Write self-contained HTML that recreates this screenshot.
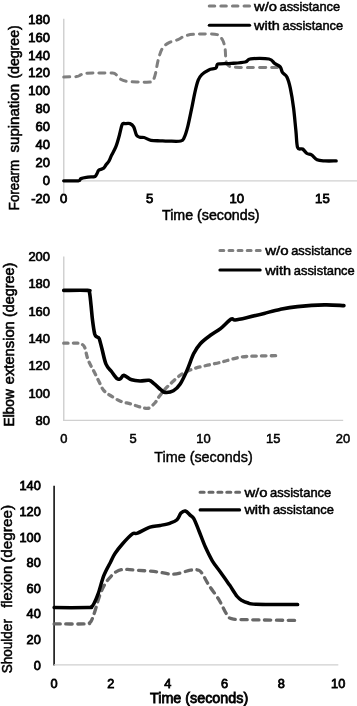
<!DOCTYPE html>
<html><head><meta charset="utf-8"><title>chart</title>
<style>html,body{margin:0;padding:0;background:#fff}svg{display:block}text{font-family:"Liberation Sans",sans-serif;fill:#000}svg{will-change:transform}</style></head>
<body>
<svg width="357" height="706" viewBox="0 0 357 706">
<rect width="357" height="706" fill="#fff"/>
<!-- panel1 -->
<line x1="63.8" y1="18.7" x2="63.8" y2="193" stroke="#c6c6c6" stroke-width="1.2"/>
<line x1="63.8" y1="180.8" x2="357" y2="180.8" stroke="#d0d0d0" stroke-width="1.2"/>
<path d="M63.7,76.9 C65.8,76.9 73.7,76.9 76.5,76.6 C79.3,76.3 79.1,75.5 80.5,75.0 C81.9,74.5 81.8,73.6 84.7,73.3 C87.6,73.0 93.4,73.0 98.0,73.0 C102.6,73.0 109.4,72.8 112.5,73.1 C115.6,73.4 115.2,74.0 116.5,75.0 C117.8,76.0 118.7,78.0 120.5,79.1 C122.3,80.2 124.3,80.9 127.3,81.4 C130.3,81.9 134.6,81.9 138.5,82.0 C142.4,82.1 148.3,82.4 150.8,82.0 C153.3,81.6 152.7,81.0 153.5,79.5 C154.3,78.0 154.8,76.6 155.6,73.2 C156.4,69.8 157.2,63.4 158.4,59.2 C159.6,55.0 160.7,50.8 162.6,48.0 C164.5,45.2 167.0,43.8 169.6,42.4 C172.2,41.0 175.2,40.8 178.0,39.6 C180.8,38.4 182.7,36.3 186.4,35.4 C190.1,34.5 195.3,34.1 200.4,34.0 C205.5,33.9 213.5,33.7 217.2,34.6 C220.8,35.5 221.0,37.4 222.3,39.6 C223.6,41.8 224.3,44.3 225.0,48.0 C225.7,51.7 225.4,58.9 226.2,62.0 C227.0,65.1 227.6,65.5 229.8,66.4 C232.0,67.3 231.6,67.2 239.6,67.4 C247.6,67.6 271.3,67.4 277.6,67.4" fill="none" stroke="#7f7f7f" stroke-width="3.0" stroke-dasharray="6 6" stroke-linecap="round" stroke-linejoin="round"/>
<path d="M63.7,180.8 C66.1,180.8 75.3,181.2 78.2,180.8 C81.1,180.4 79.4,179.2 81.0,178.6 C82.6,178.0 85.7,177.6 88.0,177.2 C90.3,176.8 93.5,177.1 95.0,176.4 C96.5,175.7 96.7,174.0 97.3,173.0 C97.9,172.0 97.7,171.0 98.7,170.2 C99.7,169.4 102.2,169.2 103.4,168.3 C104.7,167.4 105.3,165.8 106.2,164.6 C107.1,163.4 108.1,162.6 109.0,161.0 C109.9,159.4 110.6,157.2 111.8,154.8 C113.0,152.4 114.7,149.7 116.0,146.4 C117.3,143.1 118.4,138.9 119.4,135.2 C120.4,131.5 121.3,126.3 122.2,124.4 C123.1,122.5 123.7,123.7 125.0,123.6 C126.3,123.5 128.6,123.1 130.0,123.6 C131.4,124.1 132.6,124.9 133.7,126.8 C134.8,128.7 135.5,133.5 136.5,135.2 C137.5,136.9 138.6,136.8 139.8,137.2 C141.1,137.6 142.1,137.0 144.0,137.5 C145.9,138.0 148.3,139.8 151.0,140.3 C153.7,140.9 157.2,140.7 160.0,140.8 C162.8,140.9 164.5,141.1 168.0,141.1 C171.5,141.1 178.1,141.6 180.8,141.0 C183.5,140.4 183.0,140.0 184.2,137.6 C185.4,135.2 186.5,131.5 187.8,126.4 C189.1,121.3 190.8,112.4 192.0,106.8 C193.2,101.2 193.8,97.2 194.8,92.8 C195.8,88.4 197.0,83.2 198.2,80.2 C199.4,77.2 200.0,76.3 201.8,74.6 C203.6,72.9 206.5,71.0 208.8,69.9 C211.1,68.8 214.4,69.1 215.8,68.2 C217.2,67.3 216.5,65.3 217.2,64.6 C217.9,63.9 217.7,64.0 220.0,63.8 C222.3,63.6 227.0,63.7 231.2,63.4 C235.4,63.1 241.9,62.8 245.2,62.0 C248.4,61.2 246.7,59.3 250.7,58.8 C254.7,58.3 265.0,58.2 269.0,59.0 C273.0,59.8 272.7,62.1 274.6,63.4 C276.5,64.7 278.9,65.3 280.2,66.8 C281.5,68.3 281.3,70.7 282.4,72.4 C283.5,74.1 285.6,74.3 286.9,76.9 C288.2,79.5 289.2,82.9 290.3,88.1 C291.4,93.3 292.7,101.2 293.6,108.3 C294.5,115.4 295.2,124.2 295.9,130.7 C296.6,137.2 296.5,144.4 297.6,147.5 C298.7,150.6 301.0,148.0 302.6,149.0 C304.2,150.0 305.5,152.5 307.0,153.5 C308.5,154.5 309.8,153.8 311.5,154.9 C313.2,156.0 314.9,158.8 317.1,159.8 C319.4,160.8 321.8,160.7 325.0,160.9 C328.2,161.1 334.3,160.9 336.2,160.9" fill="none" stroke="#000" stroke-width="3.3" stroke-linecap="round" stroke-linejoin="round"/>
<line x1="209.3" y1="6.0" x2="249.6" y2="6.0" stroke="#7f7f7f" stroke-width="3.1" stroke-dasharray="5.4 6.2" stroke-linecap="round"/>
<line x1="209.3" y1="25.3" x2="249.6" y2="25.3" stroke="#000" stroke-width="3.1" stroke-linecap="round"/>
<text x="254.0" y="10.5" font-size="13.5" text-anchor="start" textLength="23.0" lengthAdjust="spacingAndGlyphs" stroke="#000" stroke-width="0.5">w/o</text>
<text x="279.5" y="10.5" font-size="13.5" text-anchor="start" textLength="60.6" lengthAdjust="spacingAndGlyphs" stroke="#000" stroke-width="0.5">assistance</text>
<text x="254.0" y="30" font-size="13.5" text-anchor="start" textLength="25.8" lengthAdjust="spacingAndGlyphs" stroke="#000" stroke-width="0.5">with</text>
<text x="282.5" y="30" font-size="13.5" text-anchor="start" textLength="60.6" lengthAdjust="spacingAndGlyphs" stroke="#000" stroke-width="0.5">assistance</text>
<text x="49.9" y="23.7" font-size="13" text-anchor="end" textLength="21.6" lengthAdjust="spacingAndGlyphs" stroke="#000" stroke-width="0.8">180</text>
<text x="49.9" y="41.6" font-size="13" text-anchor="end" textLength="21.6" lengthAdjust="spacingAndGlyphs" stroke="#000" stroke-width="0.8">160</text>
<text x="49.9" y="59.5" font-size="13" text-anchor="end" textLength="21.6" lengthAdjust="spacingAndGlyphs" stroke="#000" stroke-width="0.8">140</text>
<text x="49.9" y="77.4" font-size="13" text-anchor="end" textLength="21.6" lengthAdjust="spacingAndGlyphs" stroke="#000" stroke-width="0.8">120</text>
<text x="49.9" y="95.3" font-size="13" text-anchor="end" textLength="21.6" lengthAdjust="spacingAndGlyphs" stroke="#000" stroke-width="0.8">100</text>
<text x="49.9" y="113.2" font-size="13" text-anchor="end" textLength="14.4" lengthAdjust="spacingAndGlyphs" stroke="#000" stroke-width="0.8">80</text>
<text x="49.9" y="131.1" font-size="13" text-anchor="end" textLength="14.4" lengthAdjust="spacingAndGlyphs" stroke="#000" stroke-width="0.8">60</text>
<text x="49.9" y="149.0" font-size="13" text-anchor="end" textLength="14.4" lengthAdjust="spacingAndGlyphs" stroke="#000" stroke-width="0.8">40</text>
<text x="49.9" y="166.9" font-size="13" text-anchor="end" textLength="14.4" lengthAdjust="spacingAndGlyphs" stroke="#000" stroke-width="0.8">20</text>
<text x="49.9" y="184.8" font-size="13" text-anchor="end" textLength="7.2" lengthAdjust="spacingAndGlyphs" stroke="#000" stroke-width="0.8">0</text>
<text x="49.9" y="202.7" font-size="13" text-anchor="end" textLength="18.7" lengthAdjust="spacingAndGlyphs" stroke="#000" stroke-width="0.8">-20</text>
<text x="63.6" y="203" font-size="13" text-anchor="middle" textLength="7.3" lengthAdjust="spacingAndGlyphs" stroke="#000" stroke-width="0.8">0</text>
<text x="149.7" y="203" font-size="13" text-anchor="middle" textLength="7.3" lengthAdjust="spacingAndGlyphs" stroke="#000" stroke-width="0.8">5</text>
<text x="236.8" y="203" font-size="13" text-anchor="middle" textLength="14.6" lengthAdjust="spacingAndGlyphs" stroke="#000" stroke-width="0.8">10</text>
<text x="322.4" y="203" font-size="13" text-anchor="middle" textLength="14.6" lengthAdjust="spacingAndGlyphs" stroke="#000" stroke-width="0.8">15</text>
<text x="162" y="220.4" font-size="14.2" text-anchor="start" textLength="97.5" lengthAdjust="spacingAndGlyphs" stroke="#000" stroke-width="0.5">Time (seconds)</text>
<text x="19.4" y="210.2" font-size="15" text-anchor="start" textLength="50.3" lengthAdjust="spacingAndGlyphs" stroke="#000" stroke-width="0.55" transform="rotate(-90 19.4 210.2)">Forearm</text>
<text x="19.4" y="152.5" font-size="15" text-anchor="start" textLength="68.6" lengthAdjust="spacingAndGlyphs" stroke="#000" stroke-width="0.55" transform="rotate(-90 19.4 152.5)">supination</text>
<text x="19.4" y="78.6" font-size="15" text-anchor="start" textLength="53.3" lengthAdjust="spacingAndGlyphs" stroke="#000" stroke-width="0.55" transform="rotate(-90 19.4 78.6)">(degree)</text>
<!-- panel2 -->
<line x1="63.8" y1="256.5" x2="63.8" y2="420.9" stroke="#c6c6c6" stroke-width="1.2"/>
<line x1="63.2" y1="420.4" x2="343.2" y2="420.4" stroke="#d0d0d0" stroke-width="1.2"/>
<path d="M63.7,343.2 C66.2,343.2 75.5,343.0 78.5,343.2 C81.5,343.4 80.8,343.5 81.8,344.2 C82.8,344.9 83.7,344.7 84.7,347.3 C85.7,349.9 86.5,355.7 88.0,359.6 C89.5,363.5 91.7,367.1 93.6,370.8 C95.5,374.5 97.5,378.7 99.2,382.0 C100.9,385.3 101.8,388.1 103.7,390.4 C105.6,392.6 107.6,393.7 110.4,395.5 C113.2,397.3 117.1,399.8 120.5,401.2 C123.9,402.6 127.2,402.9 130.6,403.9 C134.0,404.9 138.0,406.4 140.7,407.2 C143.4,407.9 145.4,408.4 147.0,408.4 C148.6,408.4 149.0,408.2 150.4,407.2 C151.8,406.2 154.1,403.9 155.5,402.2 C156.9,400.5 157.1,399.4 158.8,397.1 C160.5,394.9 163.5,390.9 165.5,388.7 C167.5,386.5 168.6,385.5 170.6,383.7 C172.6,381.9 175.3,379.2 177.3,377.6 C179.3,376.0 179.6,375.3 182.4,373.8 C185.2,372.3 189.9,370.0 194.1,368.6 C198.3,367.2 203.3,366.2 207.6,365.2 C211.9,364.2 216.7,363.3 220.0,362.5 C223.3,361.7 223.8,361.4 227.2,360.5 C230.6,359.6 235.6,357.9 240.7,357.1 C245.8,356.4 251.0,356.2 257.5,356.0 C264.0,355.8 275.8,355.7 279.5,355.6" fill="none" stroke="#7f7f7f" stroke-width="3.3" stroke-dasharray="4.4 5.2" stroke-linecap="round" stroke-linejoin="round"/>
<path d="M63.7,290.4 C67.7,290.4 83.2,290.0 87.5,290.4 C91.8,290.8 88.9,290.1 89.5,292.5 C90.1,294.9 90.5,300.4 91.0,305.0 C91.5,309.6 91.9,315.2 92.5,320.0 C93.1,324.8 94.0,331.2 94.7,334.0 C95.5,336.8 96.2,336.2 97.0,337.0 C97.8,337.8 98.4,336.6 99.2,338.6 C100.0,340.6 100.9,344.8 102.0,349.0 C103.1,353.2 104.4,360.4 106.0,364.1 C107.6,367.9 109.7,369.1 111.5,371.5 C113.3,373.9 115.6,377.5 117.1,378.7 C118.6,379.9 119.4,379.2 120.5,378.7 C121.6,378.1 122.0,375.2 123.9,375.4 C125.8,375.6 129.0,378.9 131.7,379.8 C134.4,380.7 137.1,380.9 140.0,381.0 C142.9,381.1 146.7,379.9 149.0,380.3 C151.3,380.8 152.0,382.1 154.0,383.7 C156.0,385.3 159.0,388.2 160.8,389.7 C162.6,391.1 162.9,392.2 165.0,392.4 C167.1,392.6 170.9,392.2 173.4,390.8 C175.9,389.4 177.9,387.4 180.2,384.0 C182.4,380.6 184.7,375.6 186.9,370.6 C189.1,365.6 191.4,358.3 193.6,353.8 C195.8,349.3 197.5,346.8 200.3,343.7 C203.1,340.6 207.0,337.8 210.4,335.3 C213.8,332.8 217.1,331.3 220.5,328.6 C223.9,325.9 228.6,320.5 231.0,319.1 C233.4,317.7 232.5,320.3 235.2,320.0 C237.9,319.7 242.6,318.6 247.4,317.5 C252.2,316.4 258.8,314.8 264.2,313.4 C269.6,312.0 274.4,310.5 280.0,309.4 C285.6,308.3 290.1,307.4 297.5,306.6 C304.9,305.9 316.7,305.1 324.4,304.9 C332.1,304.7 340.6,305.5 343.9,305.6" fill="none" stroke="#000" stroke-width="3.6" stroke-linecap="round" stroke-linejoin="round"/>
<line x1="219.9" y1="250.5" x2="260.2" y2="250.5" stroke="#7f7f7f" stroke-width="3.0" stroke-dasharray="3.9 5.2" stroke-linecap="round"/>
<line x1="219.9" y1="269.9" x2="260.2" y2="269.9" stroke="#000" stroke-width="3.0" stroke-linecap="round"/>
<text x="265.2" y="254.6" font-size="13.5" text-anchor="start" textLength="23.4" lengthAdjust="spacingAndGlyphs" stroke="#000" stroke-width="0.5">w/o</text>
<text x="291.2" y="254.6" font-size="13.5" text-anchor="start" textLength="60.7" lengthAdjust="spacingAndGlyphs" stroke="#000" stroke-width="0.5">assistance</text>
<text x="265.2" y="274.6" font-size="13.5" text-anchor="start" textLength="25.8" lengthAdjust="spacingAndGlyphs" stroke="#000" stroke-width="0.5">with</text>
<text x="293.8" y="274.6" font-size="13.5" text-anchor="start" textLength="60.9" lengthAdjust="spacingAndGlyphs" stroke="#000" stroke-width="0.5">assistance</text>
<text x="50" y="261.0" font-size="13" text-anchor="end" textLength="21.6" lengthAdjust="spacingAndGlyphs" stroke="#000" stroke-width="0.7">200</text>
<text x="50" y="288.3" font-size="13" text-anchor="end" textLength="21.6" lengthAdjust="spacingAndGlyphs" stroke="#000" stroke-width="0.7">180</text>
<text x="50" y="315.6" font-size="13" text-anchor="end" textLength="21.6" lengthAdjust="spacingAndGlyphs" stroke="#000" stroke-width="0.7">160</text>
<text x="50" y="342.9" font-size="13" text-anchor="end" textLength="21.6" lengthAdjust="spacingAndGlyphs" stroke="#000" stroke-width="0.7">140</text>
<text x="50" y="370.2" font-size="13" text-anchor="end" textLength="21.6" lengthAdjust="spacingAndGlyphs" stroke="#000" stroke-width="0.7">120</text>
<text x="50" y="397.5" font-size="13" text-anchor="end" textLength="21.6" lengthAdjust="spacingAndGlyphs" stroke="#000" stroke-width="0.7">100</text>
<text x="50" y="424.8" font-size="13" text-anchor="end" textLength="14.4" lengthAdjust="spacingAndGlyphs" stroke="#000" stroke-width="0.7">80</text>
<text x="63.8" y="443.3" font-size="13" text-anchor="middle" textLength="7.2" lengthAdjust="spacingAndGlyphs" stroke="#000" stroke-width="0.5">0</text>
<text x="133.2" y="443.3" font-size="13" text-anchor="middle" textLength="7.2" lengthAdjust="spacingAndGlyphs" stroke="#000" stroke-width="0.5">5</text>
<text x="203.5" y="443.3" font-size="13" text-anchor="middle" textLength="14.4" lengthAdjust="spacingAndGlyphs" stroke="#000" stroke-width="0.5">10</text>
<text x="273.2" y="443.3" font-size="13" text-anchor="middle" textLength="14.4" lengthAdjust="spacingAndGlyphs" stroke="#000" stroke-width="0.5">15</text>
<text x="343" y="443.3" font-size="13" text-anchor="middle" textLength="14.4" lengthAdjust="spacingAndGlyphs" stroke="#000" stroke-width="0.5">20</text>
<text x="154.3" y="461.6" font-size="14.2" text-anchor="start" textLength="98.4" lengthAdjust="spacingAndGlyphs" stroke="#000" stroke-width="0.4">Time (seconds)</text>
<text x="13.6" y="426.4" font-size="14" text-anchor="start" textLength="37.2" lengthAdjust="spacingAndGlyphs" stroke="#000" stroke-width="0.6" transform="rotate(-90 13.6 426.4)">Elbow</text>
<text x="13.6" y="384.2" font-size="14" text-anchor="start" textLength="63.0" lengthAdjust="spacingAndGlyphs" stroke="#000" stroke-width="0.6" transform="rotate(-90 13.6 384.2)">extension</text>
<text x="13.6" y="316.9" font-size="14" text-anchor="start" textLength="54.2" lengthAdjust="spacingAndGlyphs" stroke="#000" stroke-width="0.6" transform="rotate(-90 13.6 316.9)">(degree)</text>
<!-- panel3 -->
<line x1="54.1" y1="485.8" x2="54.1" y2="665.4" stroke="#000" stroke-width="1.5"/>
<line x1="54" y1="664.9" x2="338.3" y2="664.9" stroke="#cfcfcf" stroke-width="1.2"/>
<path d="M54.1,623.9 C59.4,623.9 80.1,624.1 86.0,623.9 C91.9,623.7 88.6,623.4 89.5,622.8 C90.4,622.2 90.6,622.4 91.5,620.5 C92.4,618.6 93.3,616.1 94.8,611.6 C96.3,607.1 98.5,598.5 100.4,593.6 C102.3,588.7 104.1,585.4 106.0,582.4 C107.9,579.4 109.9,577.5 111.6,575.7 C113.3,573.9 114.3,572.8 116.0,571.8 C117.7,570.8 119.8,570.0 121.7,569.6 C123.6,569.2 124.7,569.3 127.3,569.4 C129.9,569.5 132.6,569.8 137.5,570.2 C142.4,570.6 150.8,571.1 156.8,571.8 C162.8,572.5 168.0,574.5 173.6,574.2 C179.2,573.9 186.2,570.9 190.4,570.2 C194.6,569.5 196.8,569.5 198.8,570.2 C200.8,570.9 200.9,571.7 202.6,574.2 C204.3,576.7 206.0,580.8 208.8,585.1 C211.6,589.5 216.4,595.5 219.3,600.3 C222.2,605.1 224.3,610.6 226.3,613.7 C228.3,616.8 228.0,617.7 231.5,618.7 C235.0,619.7 236.2,619.4 247.2,619.7 C258.2,620.0 289.2,620.3 297.6,620.4" fill="none" stroke="#686868" stroke-width="3.3" stroke-dasharray="6.2 5.6" stroke-linecap="round" stroke-linejoin="round"/>
<path d="M54.1,607.6 C59.8,607.6 81.8,607.7 88.0,607.6 C94.2,607.5 90.5,607.5 91.5,606.8 C92.5,606.1 92.9,605.7 94.0,603.5 C95.1,601.3 96.6,598.2 98.2,593.6 C99.8,589.0 101.8,580.9 103.8,575.7 C105.8,570.5 108.6,565.9 110.5,562.2 C112.4,558.5 113.0,556.5 115.0,553.5 C117.0,550.5 119.5,547.3 122.4,544.0 C125.3,540.7 129.9,535.7 132.4,533.9 C134.9,532.1 134.6,534.3 137.5,533.2 C140.4,532.1 146.2,528.4 150.0,527.1 C153.8,525.8 156.8,526.2 160.2,525.5 C163.6,524.8 167.5,524.1 170.3,523.1 C173.1,522.1 175.2,521.4 177.0,519.7 C178.8,518.0 179.6,514.5 181.0,513.0 C182.4,511.6 183.8,510.6 185.4,511.0 C187.0,511.4 189.0,514.1 190.4,515.4 C191.8,516.7 192.4,516.2 193.8,518.7 C195.2,521.2 196.9,525.7 198.8,530.5 C200.8,535.3 203.2,542.2 205.5,547.3 C207.8,552.3 209.8,556.6 212.3,560.8 C214.8,565.0 217.8,568.5 220.7,572.5 C223.6,576.5 226.8,581.1 229.6,585.1 C232.3,589.1 235.1,593.9 237.2,596.5 C239.3,599.1 240.3,599.5 242.0,600.5 C243.7,601.5 245.2,602.2 247.5,602.8 C249.8,603.4 247.7,604.0 256.0,604.3 C264.4,604.6 290.7,604.5 297.6,604.6" fill="none" stroke="#000" stroke-width="3.5" stroke-linecap="round" stroke-linejoin="round"/>
<line x1="200.1" y1="492.3" x2="239.6" y2="492.3" stroke="#686868" stroke-width="3.1" stroke-dasharray="4.0 4.9" stroke-linecap="round"/>
<line x1="200.1" y1="509.9" x2="239.6" y2="509.9" stroke="#000" stroke-width="3.1" stroke-linecap="round"/>
<text x="244.4" y="496.7" font-size="13.5" text-anchor="start" textLength="23.1" lengthAdjust="spacingAndGlyphs" stroke="#000" stroke-width="0.5">w/o</text>
<text x="270.1" y="496.7" font-size="13.5" text-anchor="start" textLength="61.2" lengthAdjust="spacingAndGlyphs" stroke="#000" stroke-width="0.5">assistance</text>
<text x="244.4" y="514.4" font-size="13.5" text-anchor="start" textLength="25.8" lengthAdjust="spacingAndGlyphs" stroke="#000" stroke-width="0.5">with</text>
<text x="272.9" y="514.4" font-size="13.5" text-anchor="start" textLength="61.0" lengthAdjust="spacingAndGlyphs" stroke="#000" stroke-width="0.5">assistance</text>
<text x="40.8" y="490.3" font-size="13" text-anchor="end" textLength="21.3" lengthAdjust="spacingAndGlyphs" stroke="#000" stroke-width="0.8">140</text>
<text x="40.8" y="515.9" font-size="13" text-anchor="end" textLength="21.3" lengthAdjust="spacingAndGlyphs" stroke="#000" stroke-width="0.8">120</text>
<text x="40.8" y="541.5" font-size="13" text-anchor="end" textLength="21.3" lengthAdjust="spacingAndGlyphs" stroke="#000" stroke-width="0.8">100</text>
<text x="40.8" y="567.1" font-size="13" text-anchor="end" textLength="14.2" lengthAdjust="spacingAndGlyphs" stroke="#000" stroke-width="0.8">80</text>
<text x="40.8" y="592.7" font-size="13" text-anchor="end" textLength="14.2" lengthAdjust="spacingAndGlyphs" stroke="#000" stroke-width="0.8">60</text>
<text x="40.8" y="618.3" font-size="13" text-anchor="end" textLength="14.2" lengthAdjust="spacingAndGlyphs" stroke="#000" stroke-width="0.8">40</text>
<text x="40.8" y="643.9" font-size="13" text-anchor="end" textLength="14.2" lengthAdjust="spacingAndGlyphs" stroke="#000" stroke-width="0.8">20</text>
<text x="40.8" y="669.5" font-size="13" text-anchor="end" textLength="7.1" lengthAdjust="spacingAndGlyphs" stroke="#000" stroke-width="0.8">0</text>
<text x="54" y="688.2" font-size="13" text-anchor="middle" textLength="7.1" lengthAdjust="spacingAndGlyphs" stroke="#000" stroke-width="0.8">0</text>
<text x="110.9" y="688.2" font-size="13" text-anchor="middle" textLength="7.1" lengthAdjust="spacingAndGlyphs" stroke="#000" stroke-width="0.8">2</text>
<text x="167.8" y="688.2" font-size="13" text-anchor="middle" textLength="7.1" lengthAdjust="spacingAndGlyphs" stroke="#000" stroke-width="0.8">4</text>
<text x="224.6" y="688.2" font-size="13" text-anchor="middle" textLength="7.1" lengthAdjust="spacingAndGlyphs" stroke="#000" stroke-width="0.8">6</text>
<text x="281.4" y="688.2" font-size="13" text-anchor="middle" textLength="7.1" lengthAdjust="spacingAndGlyphs" stroke="#000" stroke-width="0.8">8</text>
<text x="338.2" y="688.2" font-size="13" text-anchor="middle" textLength="14.2" lengthAdjust="spacingAndGlyphs" stroke="#000" stroke-width="0.8">10</text>
<text x="150" y="703" font-size="14.2" text-anchor="start" textLength="98.2" lengthAdjust="spacingAndGlyphs" stroke="#000" stroke-width="0.8">Time (seconds)</text>
<text x="11.8" y="673.3" font-size="14" text-anchor="start" textLength="54.2" lengthAdjust="spacingAndGlyphs" stroke="#000" stroke-width="0.5" transform="rotate(-90 11.8 673.3)">Shoulder</text>
<text x="11.8" y="607.8" font-size="14" text-anchor="start" textLength="42.0" lengthAdjust="spacingAndGlyphs" stroke="#000" stroke-width="0.5" transform="rotate(-90 11.8 607.8)">flexion</text>
<text x="11.8" y="562.8" font-size="14" text-anchor="start" textLength="57.9" lengthAdjust="spacingAndGlyphs" stroke="#000" stroke-width="0.5" transform="rotate(-90 11.8 562.8)">(degree)</text>
</svg>
</body></html>
